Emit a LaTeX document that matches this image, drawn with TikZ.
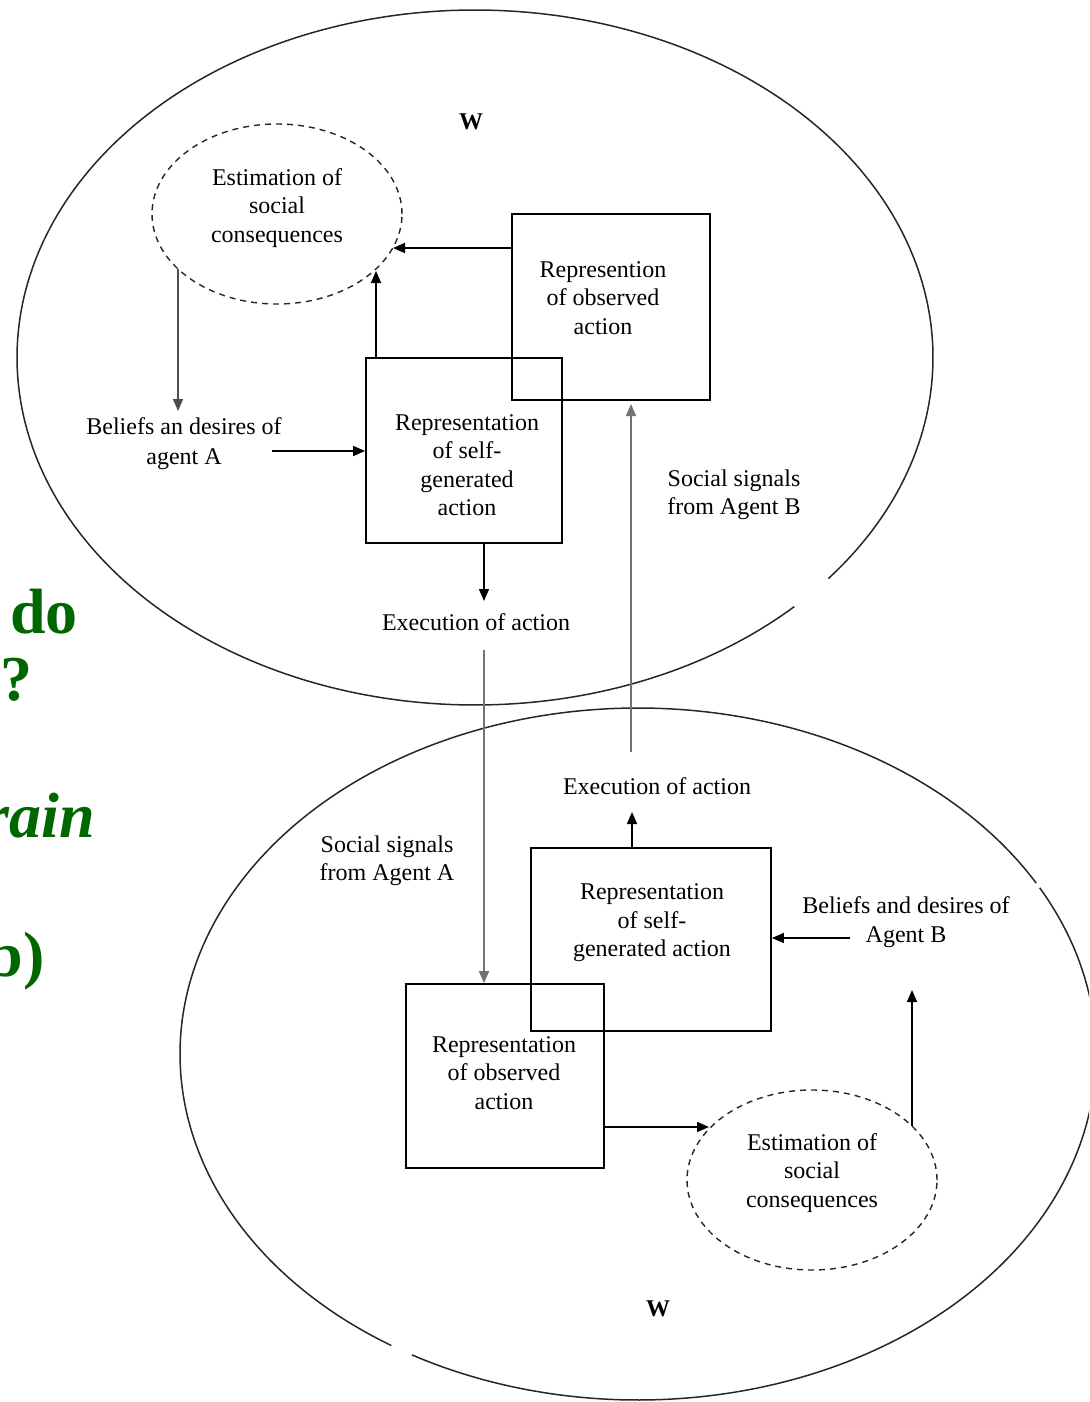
\documentclass[tikz,border=0pt]{standalone}
\usepackage{fontspec}
\setmainfont{Liberation Serif}
\usetikzlibrary{arrows.meta,shapes.geometric}
\definecolor{slidegreen}{RGB}{0,102,0}
\begin{document}
\begin{tikzpicture}[x=0.5pt,y=-0.5pt,
  txt/.style={font=\fontsize{12}{14.2}\selectfont, align=center, inner sep=0pt},
  wlabel/.style={font=\fontsize{12}{14}\selectfont\bfseries, inner sep=0pt},
  box/.style={draw, line width=0.9pt, rectangle, inner sep=0pt},
  est/.style={draw, dash pattern=on 3pt off 2.5pt, ellipse, inner sep=0pt, line width=0.7pt, draw=black!85},
  arr/.style={-{Triangle[length=6pt,width=5pt]}, line width=0.8pt},
  garr/.style={-{Triangle[length=6pt,width=5pt]}, line width=0.9pt, draw=black!55, fill=black},
  big/.style={font=\fontsize{32}{38}\selectfont\bfseries, text=slidegreen, inner sep=0pt},
  outer/.style={line width=0.75pt, draw=black!85}]
\useasboundingbox (0,0) rectangle (1089,1402);
\clip (0,0) rectangle (1089,1402);

% outer ellipses (with small gaps)
\draw[outer] plot[domain=45.8:399.5, samples=300, variable=\t] ({475+458*cos(\t)},{357.5+347.5*sin(\t)});
\draw[outer] plot[domain=122.6:330.4, samples=250, variable=\t] ({638+458*cos(\t)},{1054+346*sin(\t)});
\draw[outer] plot[domain=331.3:479.6, samples=200, variable=\t] ({638+458*cos(\t)},{1054+346*sin(\t)});

% green slide text (cut off at the left edge, as in the reference)
\node[big, anchor=base west] (g1) at (10,633) {do};
\node[big, anchor=base east] (g2) at (33,700) {?};
\node[big, anchor=base east, font=\fontsize{32}{38}\selectfont\bfseries\itshape] (g3) at (95,837) {rain};
\node[big, anchor=base east] (g4) at (45,976) {b)};

% ---------- top agent ----------
\node[wlabel] (WA) at (471,122) {W};
\node[est, minimum width=125pt, minimum height=90pt] (estA) at (277,214) {};
\node[txt] (estAt) at (277,208) {Estimation of\\social\\consequences};
\node[box, minimum width=99pt, minimum height=93pt] (obsA) at (611,307) {};
\node[txt] (obsAt) at (603,298) {Represention\\of observed\\action};
\node[box, minimum width=98pt, minimum height=92.5pt] (selfA) at (464,450.5) {};
\node[txt] (selfAt) at (467,465) {Representation\\of self-\\generated\\action};
\node[txt, font=\fontsize{12}{15}\selectfont] (belA) at (184,444) {Beliefs an desires of\\agent A};
\node[txt] (socB) at (734,495) {Social signals\\from Agent B};
\node[txt] (exA) at (476,622) {Execution of action};

\coordinate (eA1) at (393,248);
\coordinate (eA2) at (376,271);
\coordinate (eA3) at (178,269);
\coordinate (belAin) at (178,411);
\coordinate (belAout) at (272,451);
\coordinate (exAin) at (484,601);
\coordinate (exAout) at (484,650);
\coordinate (exBout) at (631,752);
\coordinate (obsAin) at (631,404);

\draw[arr] (obsA.west |- eA1) -- (eA1);
\draw[arr] (selfA.north -| eA2) -- (eA2);
\draw[arr, draw=black!70] (eA3) -- (belAin);
\draw[arr] (belAout) -- (selfA.west |- belAout);
\draw[arr] (selfA.south -| exAin) -- (exAin);

% ---------- bottom agent ----------
\node[wlabel] (WB) at (658,1309) {W};
\node[txt] (exB) at (657,786) {Execution of action};
\node[box, minimum width=120pt, minimum height=91.5pt] (selfB) at (651,939.5) {};
\node[txt] (selfBt) at (652,923) {Representation\\of self-\\generated action};
\node[txt] (belB) at (906,922) {Beliefs and desires of\\Agent B};
\node[box, minimum width=99pt, minimum height=92pt] (obsB) at (505,1076) {};
\node[txt] (obsBt) at (504,1073) {Representation\\of observed\\action};
\node[txt] (socA) at (387,861) {Social signals\\from Agent A};
\node[est, minimum width=125pt, minimum height=90pt] (estB) at (812,1180) {};
\node[txt] (estBt) at (812,1173) {Estimation of\\social\\consequences};

\coordinate (exBin) at (632,812);
\coordinate (belBout) at (850,938);
\coordinate (obsBout) at (604,1127);
\coordinate (eB1) at (709,1127);
\coordinate (eB2) at (912,1126);
\coordinate (belBin) at (912,990);

\draw[arr] (selfB.north -| exBin) -- (exBin);
\draw[arr] (belBout) -- (selfB.east |- belBout);
\draw[arr] (obsB.east |- obsBout) -- (eB1);
\draw[arr] (eB2) -- (belBin);

% ---------- signals between agents ----------
\draw[garr] (exAout) -- (obsB.north -| exAout);
\draw[garr] (exBout) -- (obsAin);
\end{tikzpicture}
\end{document}
